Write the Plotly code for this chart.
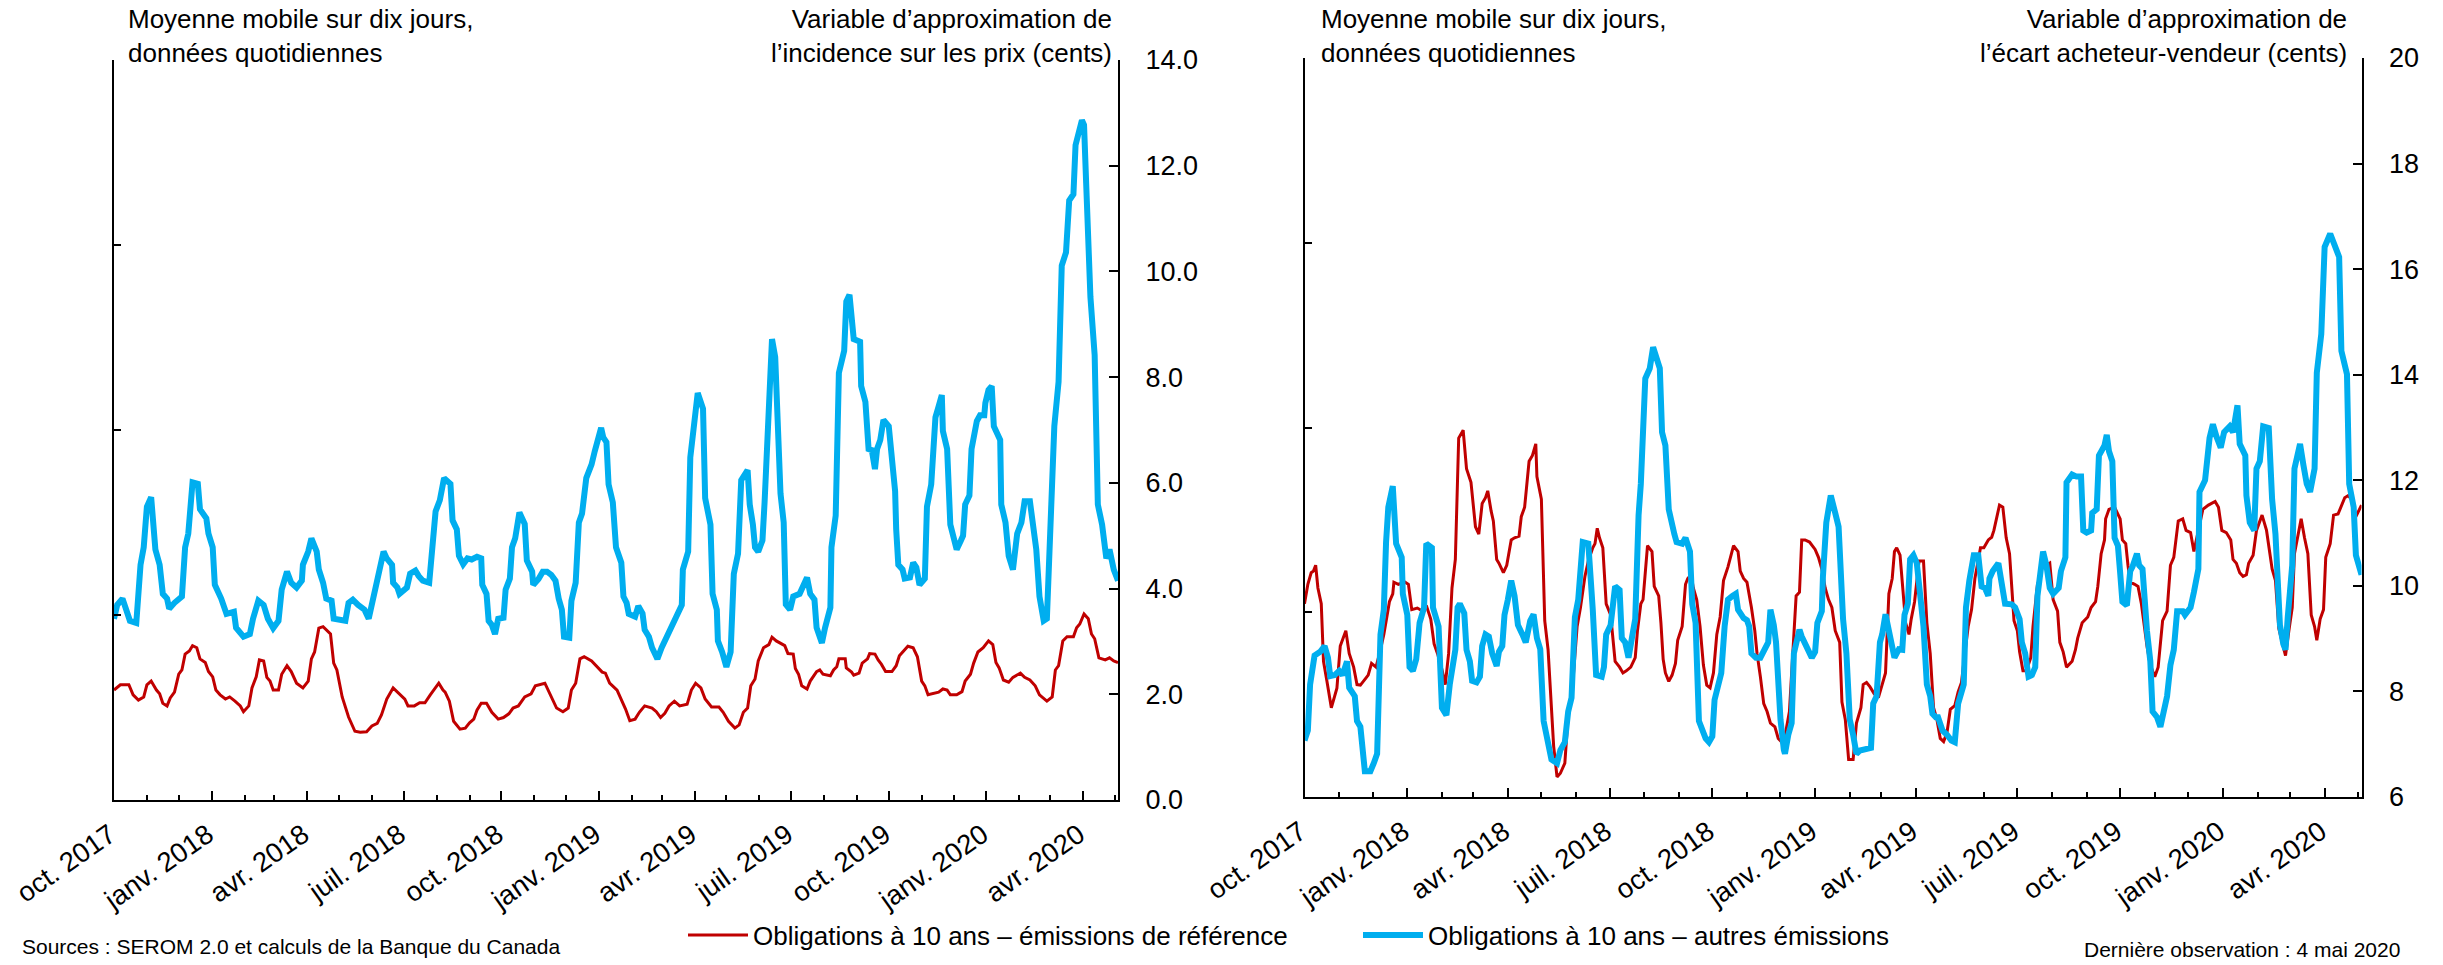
import pandas as pd
import plotly.graph_objects as go

START = "2017-10-01"
END_DAY = 946

# ---- Left panel: price-impact proxy (cents), day offsets from START ----
lp_bench_days = [0,6,14,18,23,28,31,35,40,43,46,50,53,57,61,64,67,71,74,78,81,86,89,93,96,100,105,109,114,119,
    122,127,130,134,137,141,144,147,150,155,158,163,167,172,178,183,186,189,193,197,204,207,210,215,221,227,232,238,243,248,
    252,257,263,270,274,277,283,288,293,298,306,310,
    312,316,320,326,331,335,339,342,346,351,356,362,367,372,376,381,387,393,397,406,411,417,423,428,431,435,439,443,450,456,
    460,463,467,474,478,482,486,491,495,500,507,511,515,519,523,528,533,540,544,548,553,557,563,570,574,579,585,589,593,597,
    600,604,607,612,617,620,624,
    632,635,640,642,645,648,653,656,659,662,665,668,675,678,681,683,689,690,695,697,702,705,710,712,717,720,723,727,733,737,
    740,744,748,753,757,761,764,767,772,777,781,785,788,794,799,802,807,810,814,819,824,828,831,834,838,843,847,854,858,863,
    868,872,879,884,887,890,894,898,904,907,910,914,918,921,924,928,934,938,942,946]
lp_bench_vals = [2.08,2.18,2.18,1.99,1.89,1.95,2.18,2.25,2.08,2.01,1.83,1.78,1.93,2.04,2.38,2.46,2.76,2.82,2.92,2.88,
    2.67,2.60,2.43,2.33,2.08,1.99,1.91,1.95,1.87,1.78,1.67,1.78,2.12,2.33,2.65,2.63,2.32,2.25,2.08,2.08,
    2.38,2.54,2.43,2.21,2.12,2.25,2.67,2.80,3.25,3.28,3.14,2.59,2.46,1.95,1.57,1.30,1.28,1.29,1.40,1.45,
    1.61,1.91,2.12,1.99,1.91,1.78,1.78,1.84,1.84,1.99,2.21,2.08,
    2.04,1.87,1.49,1.34,1.36,1.46,1.53,1.70,1.83,1.83,1.66,1.53,1.56,1.63,1.74,1.78,1.95,2.01,2.16,2.21,
    1.99,1.74,1.67,1.74,2.08,2.21,2.67,2.71,2.63,2.50,2.42,2.40,2.21,2.08,1.91,1.72,1.50,1.53,1.66,1.78,
    1.74,1.67,1.56,1.64,1.78,1.87,1.78,1.81,2.08,2.21,2.12,1.91,1.76,1.76,1.66,1.49,1.36,1.42,1.66,1.74,
    2.16,2.29,2.63,2.88,2.94,3.08,3.01,
    2.92,2.77,2.76,2.49,2.38,2.16,2.10,2.25,2.33,2.43,2.46,2.38,2.35,2.46,2.52,2.67,2.67,2.50,2.42,2.36,
    2.40,2.59,2.67,2.77,2.76,2.65,2.57,2.43,2.43,2.54,2.73,2.82,2.91,2.88,2.71,2.25,2.16,1.99,2.01,2.04,
    2.10,2.08,1.99,1.99,2.05,2.25,2.38,2.59,2.80,2.88,3.01,2.94,2.60,2.50,2.27,2.23,2.32,2.40,2.32,2.27,
    2.16,1.99,1.87,1.95,2.46,2.54,3.01,3.09,3.09,3.26,3.33,3.52,3.43,3.14,3.05,2.69,2.65,2.69,2.63,2.60]

lp_other_days = [0,3,8,12,15,21,25,28,31,35,39,43,46,50,52,57,64,67,70,74,79,81,87,89,93,95,101,106,113,115,
    122,128,131,136,141,145,150,155,158,163,167,172,177,178,183,186,191,193,197,200,205,207,218,221,225,230,236,240,244,250,
    254,257,262,263,267,269,276,279,284,287,291,297,300,303,307,311,
    317,319,323,325,329,333,337,342,346,347,351,353,356,359,362,367,369,373,375,378,382,387,389,394,395,400,404,408,412,416,
    419,422,424,429,431,435,438,441,445,450,453,456,459,461,464,466,470,473,478,480,483,485,491,494,498,500,504,507,512,516,
    519,521,525,529,532,535,536,541,543,546,550,555,557,562,564,568,569,573,577,581,584,588,591,597,599,602,604,607,611,613,
    616,618,620,623,628,631,633,
    637,640,646,649,653,656,660,662,667,670,675,676,680,683,688,690,693,697,703,704,708,711,714,717,719,722,725,730,733,736,
    737,739,743,745,750,753,756,759,764,766,770,774,777,780,781,785,788,791,794,798,800,802,806,808,811,813,816,820,821,824,
    827,829,835,836,840,843,847,851,855,858,863,866,869,872,874,876,879,881,886,890,893,897,900,904,906,912,914,916,920,924,
    927,931,935,938,942,946]
lp_other_vals = [3.43,3.69,3.81,3.56,3.39,3.35,4.45,4.78,5.55,5.73,4.74,4.45,3.90,3.81,3.62,3.73,3.85,4.78,5.04,6.01,
    5.98,5.50,5.33,5.04,4.78,4.07,3.81,3.52,3.56,3.26,3.09,3.14,3.43,3.77,3.69,3.43,3.25,3.39,3.98,4.32,
    4.11,4.02,4.15,4.45,4.70,4.95,4.70,4.36,4.11,3.81,3.77,3.43,3.39,3.73,3.79,3.69,3.60,3.43,3.81,4.36,
    4.70,4.57,4.45,4.11,4.02,3.90,4.02,4.28,4.34,4.24,4.15,4.11,4.70,5.46,5.67,6.09,
    5.98,5.29,5.12,4.62,4.46,4.57,4.55,4.60,4.57,4.07,3.90,3.39,3.31,3.14,3.43,3.45,3.98,4.19,4.78,4.95,
    5.44,5.22,4.53,4.32,4.07,4.18,4.32,4.32,4.26,4.15,3.81,3.60,3.09,3.07,3.77,4.11,5.25,5.42,6.09,6.35,
    6.60,6.81,7.04,6.86,6.77,5.97,5.63,4.78,4.49,3.85,3.73,3.52,3.47,3.67,3.53,3.22,3.09,2.88,2.67,2.88,
    3.01,3.09,3.22,3.43,3.56,3.69,4.36,4.70,6.48,6.94,7.70,7.40,5.71,5.21,3.90,3.60,3.01,2.80,2.52,2.80,
    4.28,4.66,6.05,6.24,5.59,5.21,4.78,4.70,4.91,5.63,7.19,7.87,8.72,8.38,5.80,5.25,3.70,
    3.60,3.85,3.90,4.02,4.21,3.90,3.79,3.26,2.97,3.26,3.64,4.78,5.38,8.08,8.50,9.43,9.56,8.72,8.67,7.83,
    7.53,6.64,6.62,6.26,6.64,6.81,7.19,7.07,6.31,5.84,5.12,4.45,4.36,4.19,4.21,4.49,4.40,4.07,4.19,5.55,
    5.97,7.24,7.45,7.66,6.98,6.64,5.21,5.00,4.74,4.91,5.00,5.59,5.76,6.64,6.90,7.17,7.28,7.28,7.51,7.76,
    7.83,7.07,6.81,5.59,5.25,4.62,4.36,5.04,5.25,5.65,5.65,5.08,4.74,3.85,3.60,3.39,3.43,4.36,7.07,7.91,
    10.11,10.36,11.34,11.46,12.39,12.86,12.77,11.67,9.52,8.42,5.59,5.21,4.57,4.74,4.36,4.15]

# ---- Right panel: bid-ask spread proxy (cents) ----
rp_bench_days = [0,3,6,8,10,12,15,17,20,22,24,27,29,32,34,37,40,44,47,50,53,57,60,64,68,71,74,76,79,80,
    84,90,93,96,101,105,109,113,116,119,123,126,129,132,135,138,142,145,149,153,156,159,162,164,167,169,172,174,178,181,
    185,188,192,194,197,201,204,207,208,212,215,218,223,226,229,233,236,239,244,247,251,254,258,260,262,264,267,270,274,278,
    282,285,288,292,296,298,301,303,307,311,
    313,317,319,321,323,326,329,332,334,338,341,343,346,348,351,354,357,360,363,366,369,372,375,379,384,388,390,393,396,399,
    400,403,405,408,411,414,417,421,424,427,430,434,437,440,443,445,448,452,457,460,463,466,469,472,475,479,481,484,487,491,
    494,498,500,503,506,510,514,517,520,523,526,528,530,533,536,538,541,543,546,550,554,557,560,563,566,569,572,575,578,582,
    585,588,591,594,597,600,605,608,612,615,617,619,622,625,
    628,631,633,635,638,640,643,646,650,652,656,658,661,664,667,670,674,676,679,682,687,690,692,696,701,704,708,710,713,716,
    717,720,725,728,730,732,735,737,739,743,746,749,754,757,761,764,768,772,775,778,782,786,789,793,796,804,809,815,818,821,
    825,829,831,834,837,840,843,845,849,852,857,861,866,869,872,875,878,881,884,886,889,892,895,898,901,904,906,909,912,914,
    918,921,925,928,931,934,937,941,946]
rp_bench_vals = [9.66,10.03,10.25,10.28,10.39,9.96,9.66,8.57,8.20,7.91,7.69,7.91,8.06,8.86,8.97,9.15,8.72,8.46,8.13,8.12,
    8.20,8.31,8.53,8.46,8.79,9.08,9.45,9.70,9.85,10.07,10.03,10.07,10.03,9.55,9.58,9.53,9.63,9.37,8.90,8.72,
    8.42,8.13,8.72,9.96,10.50,12.80,12.95,12.22,11.96,11.12,10.98,11.56,11.67,11.80,11.42,11.23,10.50,10.43,10.25,10.39,
    10.87,10.91,10.94,11.31,11.49,12.36,12.47,12.69,12.07,11.64,9.34,8.79,6.96,6.38,6.45,6.64,7.55,7.84,9.23,9.59,
    10.18,10.47,10.72,10.80,11.09,10.91,10.72,9.66,9.45,8.57,8.46,8.35,8.39,8.46,8.64,9.15,9.66,9.74,10.76,10.65,
    9.99,9.81,9.30,8.61,8.35,8.19,8.31,8.53,8.97,9.23,10.03,10.14,10.21,9.96,9.74,9.23,8.50,8.12,8.07,8.35,
    9.08,9.41,10.10,10.36,10.76,10.65,10.28,10.14,10.07,9.74,9.59,9.15,8.72,8.28,7.77,7.62,7.40,7.33,7.11,7.04,
    7.15,7.62,8.72,9.81,9.88,10.87,10.87,10.83,10.69,10.54,10.32,9.96,9.74,9.59,9.15,8.93,7.80,7.47,6.71,6.71,
    7.40,7.69,8.13,8.17,8.09,7.95,7.91,8.13,8.35,9.85,10.14,10.65,10.72,10.58,9.88,9.30,9.08,9.37,9.70,10.47,
    10.47,9.30,8.72,7.69,7.47,7.11,7.05,7.22,7.66,7.73,7.99,8.17,8.72,9.23,9.55,10.14,10.72,10.72,10.87,10.92,
    11.05,11.23,11.53,11.49,
    10.91,10.61,9.96,9.34,9.15,8.75,8.39,8.39,8.64,9.23,10.03,10.14,10.43,10.39,10.43,9.74,9.52,8.93,8.75,8.46,
    8.57,8.79,9.01,9.30,9.41,9.59,9.70,9.99,10.61,10.87,11.27,11.45,11.49,11.34,11.27,10.87,10.80,10.39,10.07,10.03,
    9.99,9.66,8.86,8.50,8.28,8.46,9.34,9.52,10.39,10.54,11.23,11.27,11.05,11.01,10.65,11.45,11.53,11.60,11.49,11.05,
    11.01,10.87,10.50,10.43,10.25,10.18,10.21,10.43,10.58,11.05,11.34,11.05,10.32,10.10,9.19,8.93,8.68,9.15,9.59,10.61,
    10.91,11.27,10.91,10.61,9.45,9.23,8.97,9.37,9.55,10.54,10.80,11.34,11.36,11.53,11.67,11.71,11.64,11.31,11.53]

rp_other_days = [0,3,5,9,14,18,21,23,27,31,34,38,40,45,47,50,54,59,62,65,68,71,73,75,79,82,87,88,92,94,
    97,100,103,107,109,114,115,120,123,127,130,135,137,139,143,145,148,150,154,157,159,162,165,168,172,174,177,179,182,185,
    188,191,195,198,202,205,208,211,214,218,221,226,229,233,236,239,242,245,249,254,256,258,261,266,268,270,274,278,282,284,
    287,290,293,296,299,301,305,309,312,
    318,320,323,326,328,331,333,338,341,345,347,350,353,356,359,362,365,367,369,373,376,379,383,386,388,393,396,398,400,404,
    408,412,415,417,420,422,426,429,430,433,436,438,441,443,445,449,454,457,459,463,464,467,471,475,478,479,482,485,488,491,
    494,497,502,507,509,512,515,517,520,524,528,532,535,537,540,542,545,548,551,554,557,560,562,565,567,571,575,579,582,585,
    590,592,595,599,603,606,609,612,613,616,621,625,
    627,633,636,640,642,645,648,651,654,656,658,661,664,667,670,675,677,681,682,687,691,695,697,700,704,705,709,711,716,718,
    720,723,725,728,730,732,736,739,741,745,747,750,754,757,759,763,766,769,772,775,778,781,786,788,793,796,800,801,806,810,
    813,816,820,823,828,831,835,837,842,843,846,850,852,855,858,863,866,869,871,873,876,878,880,884,886,891,894,897,900,904,
    906,910,913,918,922,926,928,933,935,939,941,946]
rp_other_vals = [7.07,7.26,8.13,8.68,8.75,8.86,8.64,8.29,8.31,8.39,8.31,8.57,8.07,7.91,7.44,7.33,6.49,6.49,6.64,6.82,
    9.08,9.55,10.83,11.49,11.89,10.80,10.54,9.85,9.45,8.46,8.39,8.61,9.30,9.59,10.80,10.72,9.59,9.23,7.69,7.55,
    8.13,8.79,9.59,9.66,9.48,8.79,8.57,8.20,8.17,8.28,8.86,9.08,9.04,8.72,8.48,8.75,8.86,9.45,9.74,10.10,
    9.81,9.26,9.08,8.93,9.34,9.46,9.01,8.80,7.44,6.96,6.71,6.64,6.89,7.04,7.62,7.88,9.41,9.74,10.83,10.80,
    9.88,9.55,8.31,8.28,8.46,9.08,9.26,9.99,9.92,9.01,8.93,8.64,9.01,9.37,11.34,11.93,13.93,14.12,14.52,
    14.12,12.91,12.66,11.45,11.20,10.98,10.83,10.80,10.91,10.65,9.66,9.30,7.44,7.29,7.11,7.04,7.15,7.84,8.06,8.35,
    9.23,9.74,9.81,9.85,9.55,9.39,9.35,9.23,8.72,8.64,8.64,8.82,8.93,9.55,9.26,8.93,7.47,6.89,6.82,7.18,
    7.40,8.72,8.97,9.17,9.04,8.86,8.64,8.75,9.30,9.52,10.18,11.20,11.71,11.38,11.12,10.69,9.37,8.72,7.47,7.18,
    6.82,6.88,6.91,6.93,7.77,7.91,8.93,9.08,9.46,9.08,8.64,8.80,8.79,9.45,9.66,10.50,10.58,10.43,9.74,9.23,
    8.13,7.91,7.58,7.51,7.51,7.26,7.18,7.07,7.04,7.77,8.13,9.59,10.10,10.58,10.58,9.99,9.96,9.81,10.14,10.28,
    10.43,10.00,
    9.66,9.65,9.59,9.37,8.93,8.72,8.28,8.31,8.46,9.81,10.10,10.65,10.39,9.96,9.85,9.96,10.28,10.54,11.96,12.11,
    12.07,12.07,11.05,11.01,11.05,11.38,11.45,12.47,12.66,12.86,12.55,12.36,10.91,10.76,10.25,9.70,9.63,10.28,10.36,10.61,
    10.39,10.32,9.15,8.57,7.62,7.51,7.33,7.62,7.91,8.50,8.79,9.52,9.52,9.45,9.59,9.88,10.32,11.78,12.00,12.80,
    13.06,12.84,12.62,12.91,13.02,12.91,13.42,12.69,12.47,11.71,11.20,11.05,12.22,12.36,13.02,12.99,11.64,10.98,10.32,9.26,
    8.90,8.79,9.41,10.39,12.22,12.69,12.29,11.93,11.78,12.22,14.04,14.77,16.42,16.67,16.45,16.23,14.45,14.01,11.93,11.49,
    10.58,10.21]

tick_dates = ["2017-10-01","2018-01-01","2018-04-01","2018-07-01","2018-10-01","2019-01-01",
              "2019-04-01","2019-07-01","2019-10-01","2020-01-01","2020-04-01"]
tick_labels = ["oct. 2017","janv. 2018","avr. 2018","juil. 2018","oct. 2018","janv. 2019",
               "avr. 2019","juil. 2019","oct. 2019","janv. 2020","avr. 2020"]

NAME_BENCH = "Obligations à 10 ans – émissions de référence"
NAME_OTHER = "Obligations à 10 ans – autres émissions"
RED = "#c00000"
BLUE = "#00aeef"

t0 = pd.Timestamp(START)
def to_dates(days):
    return t0 + pd.to_timedelta(days, unit="D")

W, H = 2443, 965
FONT = "Liberation Sans, Arial, sans-serif"

fig = go.Figure()
# empty traces so that the unlabelled left-hand axes are registered and drawn
fig.add_trace(go.Scatter(x=[], y=[], xaxis="x", yaxis="y", showlegend=False, hoverinfo="skip"))
fig.add_trace(go.Scatter(x=[], y=[], xaxis="x2", yaxis="y3", showlegend=False, hoverinfo="skip"))

fig.add_trace(go.Scatter(x=to_dates(lp_bench_days), y=lp_bench_vals, mode="lines", name=NAME_BENCH,
                         line=dict(color=RED, width=3), xaxis="x", yaxis="y2", legendgroup="b"))
fig.add_trace(go.Scatter(x=to_dates(lp_other_days), y=lp_other_vals, mode="lines", name=NAME_OTHER,
                         line=dict(color=BLUE, width=6), xaxis="x", yaxis="y2", legendgroup="o"))
fig.add_trace(go.Scatter(x=to_dates(rp_bench_days), y=rp_bench_vals, mode="lines", name=NAME_BENCH,
                         line=dict(color=RED, width=3), xaxis="x2", yaxis="y4", legendgroup="b", showlegend=False))
fig.add_trace(go.Scatter(x=to_dates(rp_other_days), y=rp_other_vals, mode="lines", name=NAME_OTHER,
                         line=dict(color=BLUE, width=6), xaxis="x2", yaxis="y4", legendgroup="o", showlegend=False))

x_range = [t0, t0 + pd.Timedelta(days=END_DAY)]
def xaxis_style(domain, anchor):
    return dict(domain=domain, anchor=anchor, type="date", range=x_range, automargin=False,
                tickmode="array", tickvals=tick_dates, ticktext=tick_labels, tickangle=-35,
                ticks="inside", ticklen=9, tickwidth=1.5, tickcolor="black",
                minor=dict(ticks="inside", ticklen=5, tickwidth=1.5, tickcolor="black",
                           tickmode="linear", tick0=START, dtick="M1", showgrid=False),
                showline=True, linecolor="black", linewidth=2, showgrid=False, zeroline=False,
                tickfont=dict(size=27.5), ticklabelstandoff=6, ticklabelshift=-4)

def yleft_style(domain, anchor):
    return dict(domain=domain, anchor=anchor, side="left", range=[0, 4], tickmode="linear", tick0=0, dtick=1,
                automargin=False,
                ticks="inside", ticklen=7, tickwidth=1.5, tickcolor="black", showticklabels=False,
                showline=True, linecolor="black", linewidth=2, showgrid=False, zeroline=False)

def yright_style(overlay, anchor, rng, fmt):
    return dict(overlaying=overlay, anchor=anchor, side="right", range=rng, tickmode="linear",
                tick0=rng[0], dtick=2, tickformat=fmt, automargin=False,
                ticks="inside", ticklen=9, tickwidth=1.5, tickcolor="black",
                showline=True, linecolor="black", linewidth=2, showgrid=False, zeroline=False,
                tickfont=dict(size=27), ticklabelstandoff=20)

dom_x1 = [114 / W, 1118 / W]
dom_x2 = [1304.5 / W, 2361.5 / W]
dom_y1 = [1 - 800 / H, 1 - 60 / H]
dom_y2 = [1 - 797 / H, 1 - 58 / H]

fig.update_layout(
    width=W, height=H, margin=dict(l=0, r=0, t=0, b=0, autoexpand=False),
    paper_bgcolor="white", plot_bgcolor="white",
    font=dict(family=FONT, size=26, color="black"),
    xaxis=xaxis_style(dom_x1, "y"),
    yaxis=yleft_style(dom_y1, "x"),
    yaxis2=yright_style("y", "x", [0, 14], ".1f"),
    xaxis2=xaxis_style(dom_x2, "y3"),
    yaxis3=yleft_style(dom_y2, "x2"),
    yaxis4=yright_style("y3", "x2", [6, 20], "d"),
    showlegend=True,
    legend=dict(orientation="h", x=683 / W, xanchor="left", y=1 - 935 / H, yanchor="middle",
                font=dict(size=26), bgcolor="rgba(0,0,0,0)", itemwidth=60, tracegroupgap=0,
                entrywidth=600, entrywidthmode="pixels"),
)

def note(text, x, y, xanchor, align="left", size=26, yanchor="top"):
    fig.add_annotation(text=text, xref="paper", yref="paper", x=x, y=y, xanchor=xanchor, yanchor=yanchor,
                       align=align, showarrow=False, font=dict(size=size, family=FONT, color="black"))

note("Moyenne mobile sur dix jours,<br>données quotidiennes", 126 / W, 1 - 2 / H, "left")
note("Variable d’approximation de<br>l’incidence sur les prix (cents)", 1114 / W, 1 - 2 / H, "right", align="right")
note("Moyenne mobile sur dix jours,<br>données quotidiennes", 1319 / W, 1 - 2 / H, "left")
note("Variable d’approximation de<br>l’écart acheteur-vendeur (cents)", 2349 / W, 1 - 2 / H, "right", align="right")
note("Sources : SEROM 2.0 et calculs de la Banque du Canada", 20 / W, 1 - 946 / H, "left", size=21, yanchor="middle")
note("Dernière observation : 4 mai 2020", 2402 / W, 1 - 949 / H, "right", size=21, yanchor="middle")

fig.write_html("out.html")
